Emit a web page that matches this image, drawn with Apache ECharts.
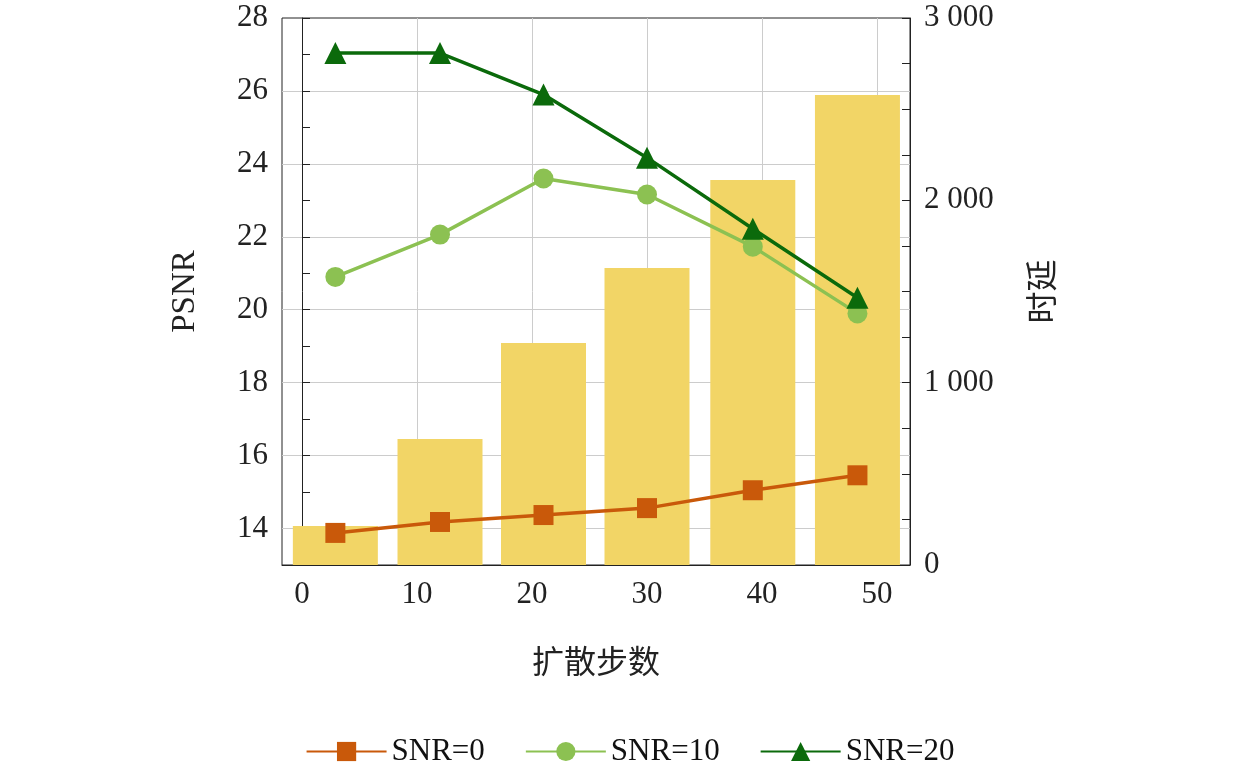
<!DOCTYPE html><html><head><meta charset="utf-8"><script src="https://cdn.jsdelivr.net/npm/echarts@6/dist/echarts.min.js"></script></head><body style="margin:0"><div id="c" style="width:1260px;height:774px"></div><script>
const xs=[2.9,12,21,30,39.2,48.3];
const delay=[214,691,1218,1629,2112,2578];
const snr0=[13.88,14.18,14.37,14.56,15.05,15.46];
const snr10=[20.9,22.06,23.6,23.16,21.73,19.9];
const snr20=[27.04,27.04,25.9,24.17,22.22,20.33];
const xTicks=[0,10,20,30,40,50];
const yGrid=[14,16,18,20,22,24,26];
const f='Liberation Serif';
const pair=a=>a.map((v,i)=>[xs[i],v]);
const ch=echarts.init(document.getElementById('c'));
const ax={color:'#222',fontFamily:f,fontSize:31};
ch.setOption({
 grid:{left:282,right:350,top:18,bottom:209,show:true,borderColor:'#222',borderWidth:1},
 legend:{bottom:2,itemGap:40,itemWidth:80,itemHeight:24,textStyle:{fontFamily:f,fontSize:31,color:'#111'},
  data:['SNR=0','SNR=10','SNR=20']},
 xAxis:{type:'value',min:-1.74,max:52.87,name:'扩散步数',nameLocation:'middle',nameGap:80,nameTextStyle:{fontFamily:'Noto Sans CJK SC',fontSize:32,color:'#222'},
  axisLine:{lineStyle:{color:'#222'}},axisTick:{customValues:xTicks,inside:true,length:8,lineStyle:{color:'#222'}},
  axisLabel:Object.assign({customValues:xTicks,margin:14},ax),splitLine:{show:true,lineStyle:{color:'#ccc'}}},
 yAxis:[{type:'value',min:13,max:28,interval:1,name:'PSNR',nameLocation:'middle',nameGap:80,nameTextStyle:{fontFamily:f,fontSize:33,color:'#222'},
   axisLine:{show:true,lineStyle:{color:'#222'}},axisTick:{inside:true,length:8,lineStyle:{color:'#222'}},
   axisLabel:Object.assign({margin:14,formatter:v=>v%2==0?v:''},ax),splitLine:{show:false}},
  {type:'value',min:0,max:3000,interval:250,name:'时延',nameLocation:'middle',nameGap:115,nameRotate:90,nameTextStyle:{fontFamily:'Noto Sans CJK SC',fontSize:32,color:'#222'},
   axisLine:{show:true,lineStyle:{color:'#222'}},axisTick:{inside:true,length:8,lineStyle:{color:'#222'}},
   axisLabel:Object.assign({margin:14,formatter:v=>v%1000==0?(v>=1000?Math.floor(v/1000)+' 000':'0'):''},ax),splitLine:{show:false}}],
 series:[
  {type:'bar',yAxisIndex:1,barWidth:85,data:pair(delay),itemStyle:{color:'#f2d566'},z:2},
  {name:'SNR=0',type:'line',data:pair(snr0),symbol:'rect',symbolSize:20,lineStyle:{width:3.5,color:'#c9590a'},itemStyle:{color:'#c9590a'},z:3,
   markLine:{silent:true,symbol:'none',label:{show:false},lineStyle:{color:'#ccc',width:1,type:'solid'},data:yGrid.map(v=>({yAxis:v})),z:0}},
  {name:'SNR=10',type:'line',data:pair(snr10),symbol:'circle',symbolSize:20,lineStyle:{width:3.5,color:'#8cc152'},itemStyle:{color:'#8cc152'},z:3},
  {name:'SNR=20',type:'line',data:pair(snr20),symbol:'triangle',symbolSize:22,lineStyle:{width:3.5,color:'#0b6a0b'},itemStyle:{color:'#0b6a0b'},z:4}
 ]});
</script></body></html>
